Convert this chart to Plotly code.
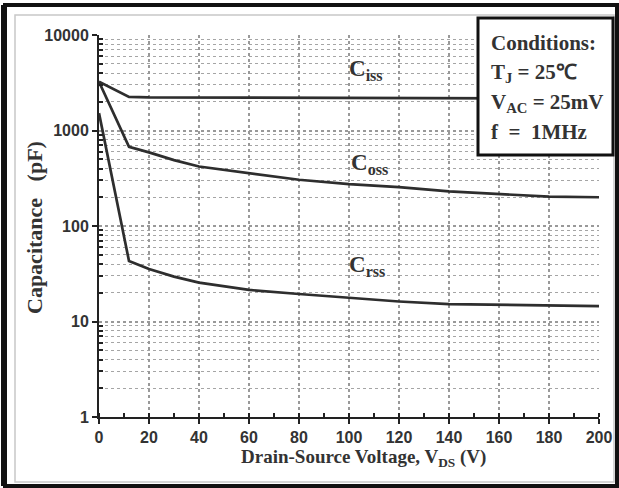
import math
import plotly.graph_objects as go

# ---- data ----
vds = [0, 12, 20, 30, 40, 60, 80, 100, 120, 140, 160, 180, 200]
ciss = [3240, 2250, 2220, 2215, 2210, 2200, 2200, 2190, 2170, 2170, 2170, 2170, 2170]
coss = [3240, 675, 590, 490, 420, 355, 305, 275, 255, 230, 215, 203, 200]
crss = [1520, 43, 35.5, 29.5, 25.5, 21.4, 19.4, 17.8, 16.2, 15.2, 15.0, 14.7, 14.5]

y_tickvals = [1, 10, 100, 1000, 10000]
y_ticktext = ["1", "10", "100", "1000", "10000"]
x_tickvals = list(range(0, 201, 20))

W, H = 619, 488
L, R, T, B = 99, 20, 35, 71
PW, PH = W - L - R, H - T - B


def px(x):
    return (x - L) / PW


def py(y):
    return (H - B - y) / PH


line_col = "#2e2e2e"
fig = go.Figure()
for name, vals in [("Ciss", ciss), ("Coss", coss), ("Crss", crss)]:
    fig.add_trace(go.Scatter(x=vds, y=vals, mode="lines", name=name,
                             line=dict(color=line_col, width=2.7),
                             showlegend=False, hoverinfo="skip"))

minor_vals = [m * 10 ** e for e in range(0, 4) for m in range(2, 10)]
tick_font = dict(family="Liberation Sans", size=16, color="#333")

fig.update_layout(
    width=W, height=H,
    margin=dict(l=L, r=R, t=T, b=B, autoexpand=False),
    paper_bgcolor="white", plot_bgcolor="white",
    font=dict(family="Liberation Sans", color="#333"),
    xaxis=dict(
        range=[0, 200], tickvals=x_tickvals, automargin=False,
        ticktext=["<b>%d</b>" % v for v in x_tickvals],
        showline=True, linecolor="#222", linewidth=2,
        ticks="outside", ticklen=5, tickwidth=2, tickcolor="#222",
        showgrid=True, gridcolor="#999", griddash="dot", gridwidth=1.5,
        zeroline=False,
        tickfont=tick_font,
        minor=dict(dtick=10, ticks="inside", ticklen=4, tickwidth=1.5, tickcolor="#222", showgrid=False),
    ),
    yaxis=dict(
        type="log", range=[0, 4], tickvals=y_tickvals, automargin=False,
        ticktext=["<b>" + t + "</b>" for t in y_ticktext],
        showline=True, linecolor="#222", linewidth=2,
        ticks="outside", ticklen=5, tickwidth=2, tickcolor="#222",
        showgrid=True, gridcolor="#999", griddash="dot", gridwidth=1.5,
        zeroline=False,
        tickfont=tick_font,
        minor=dict(tickvals=minor_vals, ticks="inside", ticklen=4, tickwidth=1.5,
                   tickcolor="#222", showgrid=True, gridcolor="#a5a5a5", griddash="dot", gridwidth=1.4),
    ),
)

# axis titles
fig.add_annotation(x=px(363), y=py(458), xref="paper", yref="paper",
                   text="<b>Drain-Source Voltage, V<sub>DS</sub> (V)</b>", showarrow=False,
                   xanchor="center", yanchor="middle",
                   font=dict(family="Liberation Serif", size=19, color="#333"))
fig.add_annotation(x=px(35), y=py(228), xref="paper", yref="paper",
                   text="<b>Capacitance   (pF)</b>", showarrow=False, textangle=-90,
                   xanchor="center", yanchor="middle",
                   font=dict(family="Liberation Serif", size=22, color="#333"))

# frames
fig.add_shape(type="rect", xref="paper", yref="paper",
              x0=px(15), x1=px(614), y0=py(482), y1=py(15),
              line=dict(color="#c8c8c8", width=1.5), layer="below")
fig.add_shape(type="rect", xref="paper", yref="paper",
              x0=px(5), x1=px(617), y0=py(486), y1=py(5),
              line=dict(color="#111", width=4))
fig.add_shape(type="line", xref="paper", yref="paper",
              x0=px(4), x1=px(4), y0=py(486), y1=py(5),
              line=dict(color="#111", width=6))

# conditions box
fig.add_shape(type="rect", xref="paper", yref="paper",
              x0=px(478), x1=px(613), y0=py(155), y1=py(18),
              line=dict(color="#111", width=3), fillcolor="white", layer="above")
cond_lines = ["Conditions:", "T<sub>J</sub> = 25℃", "V<sub>AC</sub> = 25mV", "f  =  1MHz"]
cond_y = [43, 73, 103, 132]
for txt, yy in zip(cond_lines, cond_y):
    fig.add_annotation(x=px(489), y=py(yy), xref="paper", yref="paper",
                       text="<b>" + txt + "</b>", showarrow=False,
                       xanchor="left", yanchor="middle",
                       font=dict(family="Liberation Serif", size=21, color="#333"))

# curve labels
labels = [("iss", 99, 4300), ("oss", 100, 450), ("rss", 99, 38)]
for sub, xv, yv in labels:
    fig.add_annotation(x=xv, y=math.log10(yv), xref="x", yref="y",
                       text="<b>C<sub>" + sub + "</sub></b>", showarrow=False,
                       xanchor="left", yanchor="middle",
                       font=dict(family="Liberation Serif", size=23, color="#333"))

fig.write_html("out.html", config={"displayModeBar": False},
               post_script="document.body.style.margin='0';")
